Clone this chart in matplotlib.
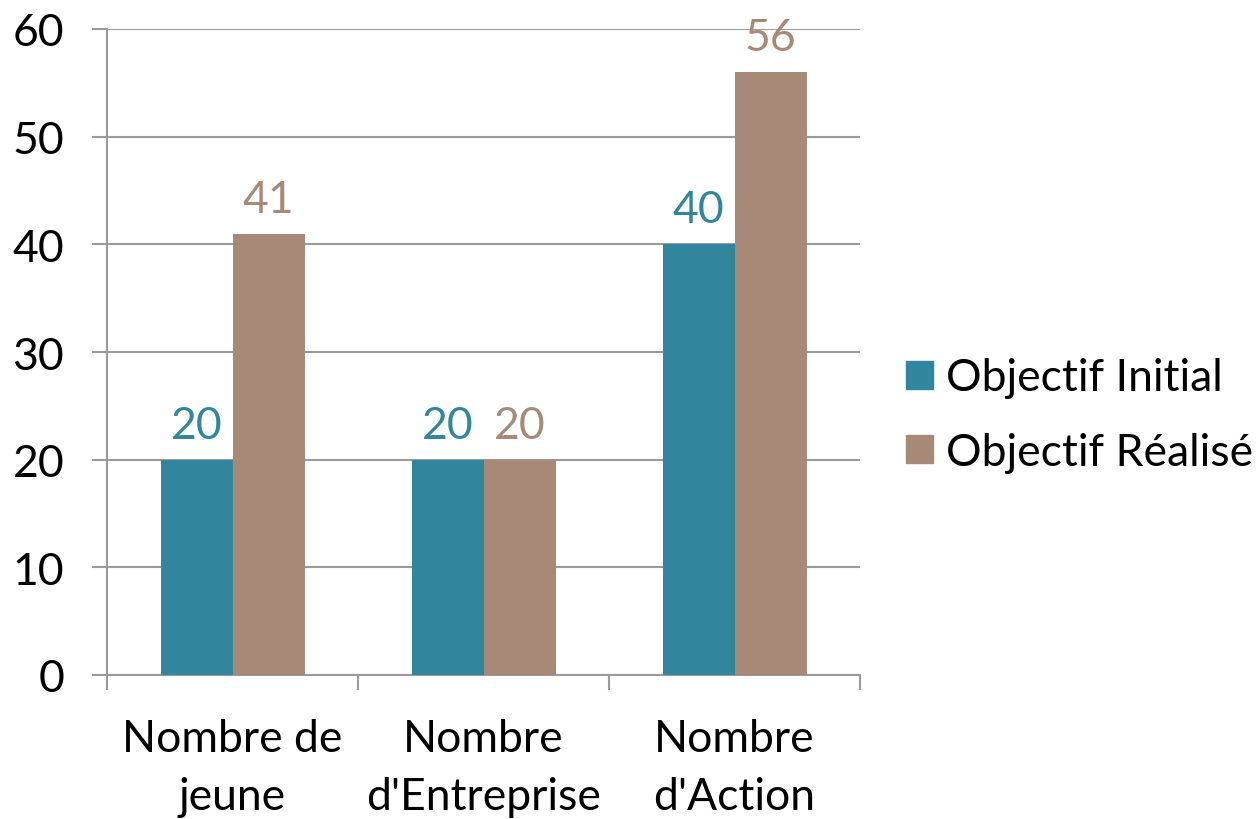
import matplotlib
matplotlib.use("Agg")
import matplotlib.pyplot as plt
import numpy as np
from matplotlib.patches import Patch

categories = ["Nombre de\njeune", "Nombre\nd'Entreprise", "Nombre\nd'Action"]
series_names = ["Objectif Initial", "Objectif Réalisé"]
initial = [20, 20, 40]
realise = [41, 20, 56]
yticks = [0, 10, 20, 30, 40, 50, 60]

c_init = "#31859C"
c_real = "#A68A77"
grid_c = "#9A9A9A"

plt.rcParams['font.family'] = ['Lato', 'DejaVu Sans']
FS = 32

fig = plt.figure(figsize=(12.56, 8.2), dpi=100)
ax = fig.add_axes([107/1256, 144/820, (860-107)/1256, (676-30)/820])

x = np.arange(len(categories))
w = 72/251
ax.bar(x - w/2, initial, width=w, color=c_init, zorder=3)
ax.bar(x + w/2, realise, width=w, color=c_real, zorder=3)

for xi, v in zip(x, initial):
    ax.text(xi - w/2, v + 1.3, str(v), ha='center', va='bottom', color=c_init, fontsize=FS)
for xi, v in zip(x, realise):
    ax.text(xi + w/2, v + 1.3, str(v), ha='center', va='bottom', color=c_real, fontsize=FS)

ax.set_xlim(-0.5, len(categories) - 0.5)
ax.set_ylim(0, 60)
ax.set_yticks(yticks)
ax.set_yticklabels([str(t) for t in yticks], fontsize=FS)
ax.yaxis.grid(True, color=grid_c, linewidth=1.5, zorder=0)
ax.tick_params(axis='y', length=10.8, width=1.5, color=grid_c, pad=20)

ax.set_xticks(np.arange(-0.5, len(categories)))
ax.set_xticklabels([])
ax.set_xticks(x, minor=True)
ax.set_xticklabels(categories, minor=True, fontsize=FS, linespacing=1.5)
ax.tick_params(axis='x', which='major', length=10.8, width=1.5, color=grid_c)
ax.tick_params(axis='x', which='minor', length=0, pad=31)

for s in ['top', 'right']:
    ax.spines[s].set_visible(False)
for s in ['left', 'bottom']:
    ax.spines[s].set_color(grid_c)
    ax.spines[s].set_linewidth(1.5)

handles = [Patch(color=c_init), Patch(color=c_real)]
fig.legend(handles, series_names, loc='center left', bbox_to_anchor=(906/1256, 1 - 416/820),
           frameon=False, fontsize=FS, handlelength=0.6, handleheight=0.6,
           handletextpad=0.3, labelspacing=0.75, borderpad=0, borderaxespad=0)

fig.savefig("out.png", dpi=100)
